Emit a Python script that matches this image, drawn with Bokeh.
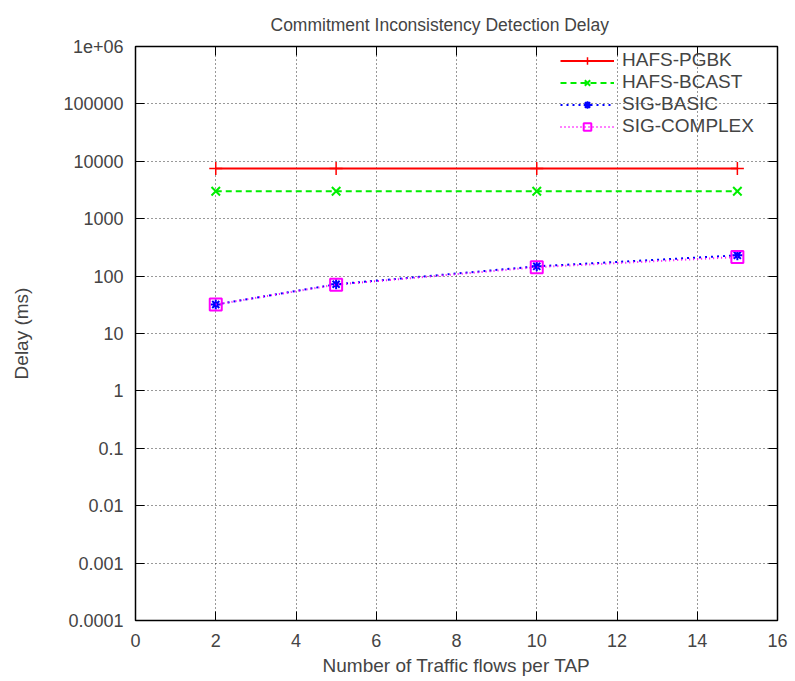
from bokeh.plotting import figure
from bokeh.models import FixedTicker, LinearAxis, LogAxis, Legend, LegendItem, Range1d
from bokeh.embed import file_html
from bokeh.resources import INLINE

# ---- data ----
flows = [2, 5, 10, 15]
hafs_pgbk = [7500, 7500, 7500, 7500]
hafs_bcast = [3000, 3000, 3000, 3000]
sig_basic = [32, 72, 148, 230]
sig_complex = [32, 71, 143, 215]
series_names = ["HAFS-PGBK", "HAFS-BCAST", "SIG-BASIC", "SIG-COMPLEX"]
x_ticks = [0, 2, 4, 6, 8, 10, 12, 14, 16]
y_ticks = [1e-4, 1e-3, 1e-2, 1e-1, 1, 10, 100, 1000, 10000, 100000, 1e6]
y_tick_labels = ["0.0001", "0.001", "0.01", "0.1", "1", "10", "100", "1000",
                 "10000", "100000", "1e+06"]

FONT = "Liberation Sans"
FS = "18px"

p = figure(width=795, height=681, y_axis_type="log",
           x_range=Range1d(0, 16), y_range=Range1d(1e-4, 1e6),
           output_backend="svg", toolbar_location=None,
           min_border_left=135, min_border_right=18,
           min_border_top=44, min_border_bottom=61,
           title="Commitment Inconsistency Detection Delay")

p.title.text_font = FONT
p.title.text_font_size = "17.5px"
p.title.text_font_style = "normal"
p.title.align = "left"
p.title.offset = 135
p.title.standoff = 24

p.outline_line_color = "black"
p.outline_line_width = 1.5
p.background_fill_color = "white"
p.border_fill_color = "white"

# axes
xa = p.xaxis[0]
ya = p.yaxis[0]
xa.ticker = FixedTicker(ticks=x_ticks)
ya.ticker = FixedTicker(ticks=y_ticks)
ya.major_label_overrides = {t: l for t, l in zip(y_ticks, y_tick_labels)}
for ax in (xa, ya):
    ax.major_tick_in = 9
    ax.major_tick_out = 0
    ax.minor_tick_in = 0
    ax.minor_tick_out = 0
    ax.axis_line_color = "black"
    ax.major_tick_line_color = "black"
    ax.major_label_text_font = FONT
    ax.major_label_text_font_size = FS
    ax.axis_label_text_font = FONT
    ax.axis_label_text_font_size = "19px"
    ax.axis_label_text_font_style = "normal"
xa.axis_label = "Number of Traffic flows per TAP"
ya.axis_label = "Delay (ms)"
xa.major_label_standoff = 13
xa.axis_label_standoff = 5
ya.major_label_standoff = 12
ya.axis_label_standoff = 28

# mirrored axes (ticks only)
ra = LogAxis(ticker=FixedTicker(ticks=y_ticks),
             major_label_overrides={t: "" for t in y_ticks}, major_label_standoff=0,
             major_tick_in=9, major_tick_out=0, minor_tick_in=0, minor_tick_out=0,
             major_tick_line_color="black", axis_line_color="black")
ta = LinearAxis(ticker=FixedTicker(ticks=x_ticks),
                major_label_overrides={t: "" for t in x_ticks}, major_label_standoff=0,
                major_tick_in=9, major_tick_out=0, minor_tick_in=0, minor_tick_out=0,
                major_tick_line_color="black", axis_line_color="black")
p.add_layout(ra, "right")
p.add_layout(ta, "above")

# grid
for g in (p.xgrid[0], p.ygrid[0]):
    g.grid_line_color = "black"
    g.grid_line_dash = "1 3"
    g.grid_line_alpha = 0.8
    g.grid_line_width = 1
    g.minor_grid_line_color = None
p.ygrid[0].ticker = FixedTicker(ticks=y_ticks)
p.xgrid[0].ticker = FixedTicker(ticks=x_ticks)

items = []
# HAFS-PGBK
l1 = p.line(flows, hafs_pgbk, line_color="#ff0000", line_width=2)
m1 = p.scatter(flows, hafs_pgbk, marker="cross", size=13, line_color="#ff0000", line_width=1.5)
items.append(LegendItem(label=series_names[0], renderers=[l1, m1]))
# HAFS-BCAST
l2 = p.line(flows, hafs_bcast, line_color="#00ee00", line_width=2, line_dash="6 4")
m2 = p.scatter(flows, hafs_bcast, marker="x", size=12, line_color="#00ee00", line_width=2)
items.append(LegendItem(label=series_names[1], renderers=[l2, m2]))
# SIG-BASIC
l3 = p.line(flows, sig_basic, line_color="#0000ff", line_width=2, line_dash="2 4")
m3 = p.scatter(flows, sig_basic, marker="asterisk", size=10, line_color="#0000ff", line_width=2)
items.append(LegendItem(label=series_names[2], renderers=[l3, m3]))
# SIG-COMPLEX
l4 = p.line(flows, sig_complex, line_color="#ff00ff", line_width=2, line_dash="1 3")
m4 = p.scatter(flows, sig_complex, marker="square", size=12, line_color="#ff00ff",
               fill_color=None, line_width=2)
items.append(LegendItem(label=series_names[3], renderers=[l4, m4]))

legend = Legend(items=items, location=(425, 483),
                label_text_font=FONT, label_text_font_size="19px",
                glyph_width=54, glyph_height=19, label_height=19, spacing=0, padding=6,
                label_standoff=8, border_line_color=None,
                background_fill_alpha=0.0, margin=0)
p.add_layout(legend, "center")

open("out.html", "w").write(file_html(p, INLINE))
